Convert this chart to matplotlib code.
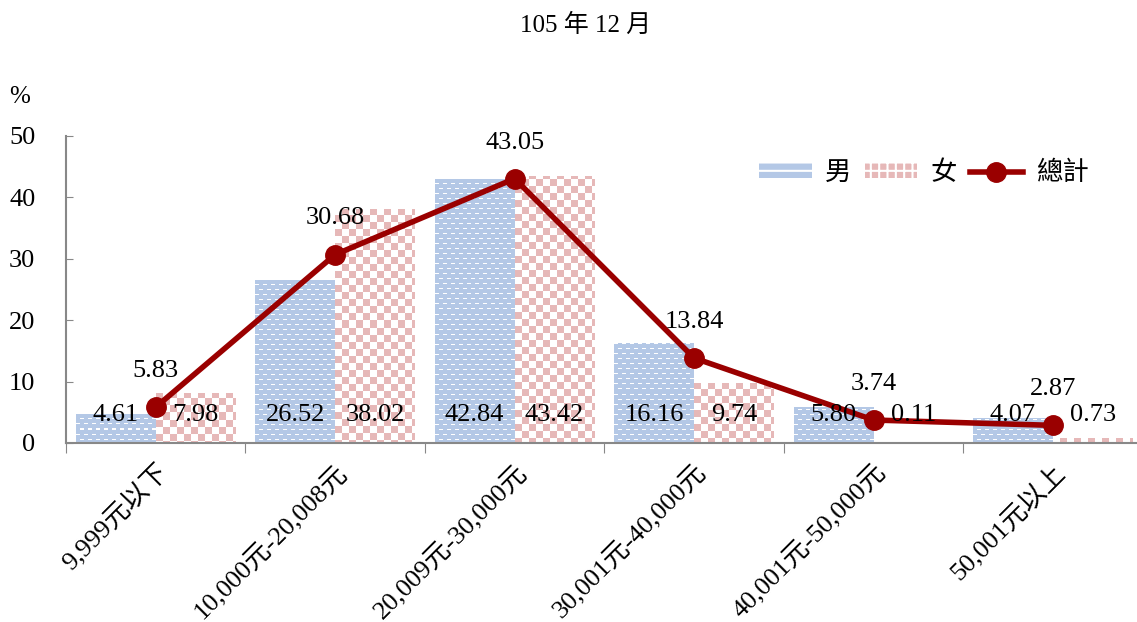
import matplotlib
matplotlib.use("Agg")
import matplotlib.pyplot as plt
from matplotlib.patches import Patch
from matplotlib.lines import Line2D
from matplotlib.colors import to_rgb
import numpy as np

plt.rcParams['font.family'] = ['Liberation Serif', 'Noto Sans CJK TC']
plt.rcParams['hatch.linewidth'] = 1.5

categories = ["9,999元以下", "10,000元-20,008元", "20,009元-30,000元",
              "30,001元-40,000元", "40,001元-50,000元", "50,001元以上"]
male = [4.61, 26.52, 42.84, 16.16, 5.80, 4.07]
female = [7.98, 38.02, 43.42, 9.74, 0.11, 0.73]
total = [5.83, 30.68, 43.05, 13.84, 3.74, 2.87]

blue = "#b4c8e6"
pink = "#e6b8b8"
red = "#9a0000"

fig = plt.figure(figsize=(11.37, 6.22), dpi=100)
ax = fig.add_axes([0.058, 0.2878, 0.947, 0.4936])
ax.set_xlim(-0.5, 5.5)
ax.set_ylim(0, 50)


def fill_pattern(bar, kind):
    # excel-like pattern fill, drawn as an image clipped to the bar
    x0, y0 = bar.get_x(), bar.get_y()
    x1, y1 = x0 + bar.get_width(), y0 + bar.get_height()
    (px0, py0), (px1, py1) = ax.transData.transform([(x0, y0), (x1, y1)])
    nw = max(int(round(px1 - px0)), 1)
    nh = max(int(round(py1 - py0)), 1)
    r, c = np.mgrid[0:nh, 0:nw]
    r = r + (int(round(1000 - py1)) % 10)
    if kind == "m":
        img = np.tile(np.array(to_rgb(blue)), (nh, nw, 1))
        shift = (r // 5) % 2 * 4
        white = (r % 5 == 2) & (((c + shift) % 8) < 4)
    else:
        img = np.tile(np.array(to_rgb(pink)), (nh, nw, 1))
        white = ((r // 7) + (c // 7)) % 2 == 1
    img[white] = 1.0
    ax.imshow(img, extent=(x0, x1, y0, y1), origin="upper", interpolation="nearest",
              aspect="auto", clip_path=bar, zorder=2)


x = np.arange(len(categories))
w = 0.445
bars_m = ax.bar(x - w / 2, male, w, color=blue, linewidth=0)
bars_f = ax.bar(x + w / 2, female, w, color=pink, linewidth=0)
for b in bars_m:
    fill_pattern(b, "m")
for b in bars_f:
    fill_pattern(b, "f")
ax.plot(x, total, color=red, linewidth=4, marker="o", markersize=14, zorder=5)

for i in range(len(x)):
    ax.text(x[i] - w / 2, 4.6, f"{male[i]:.2f}", ha="center", va="center", fontsize=19, zorder=6)
    ax.text(x[i] + w / 2, 4.6, f"{female[i]:.2f}", ha="center", va="center", fontsize=19, zorder=6)
    ax.annotate(f"{total[i]:.2f}", (x[i], total[i]), xytext=(0, 26), textcoords="offset points",
                ha="center", va="center", fontsize=19, zorder=6)

ax.set_xlim(-0.5, 5.5)
ax.set_ylim(0, 50)
ax.set_yticks([0, 10, 20, 30, 40, 50])
ax.tick_params(axis="y", labelsize=19, length=5, direction="in", pad=22, color="#888888")
ax.set_xticks(np.arange(-0.5, 6, 1))
ax.set_xticklabels([])
ax.tick_params(axis="x", length=7, color="#888888")
for s in ["top", "right"]:
    ax.spines[s].set_visible(False)
for s in ["left", "bottom"]:
    ax.spines[s].set_color("#888888")
    ax.spines[s].set_linewidth(1.5)

for i, lab in enumerate(categories):
    ax.text(i, -2.8, lab, rotation=45, ha="right", va="top", rotation_mode="anchor", fontsize=19)

fig.text(20 / 1137, 1 - 97 / 622, "%", ha="center", va="center", fontsize=18)
fig.text(0.515, 1 - 25 / 622, "105 年 12 月", ha="center", va="center", fontsize=18)

handles = [Patch(facecolor=blue, edgecolor="white", linewidth=0, hatch="--", label="男"),
           Patch(facecolor=pink, edgecolor="white", linewidth=0, hatch="++", label="女"),
           Line2D([0], [0], color=red, linewidth=4, marker="o", markersize=14, label="總計")]
ax.legend(handles=handles, loc="center right", bbox_to_anchor=(0.972, 0.88), ncol=3, frameon=False,
          fontsize=19, handlelength=2.0, handleheight=0.5, columnspacing=0.5, handletextpad=0.5)

fig.savefig("out.png", dpi=100)
